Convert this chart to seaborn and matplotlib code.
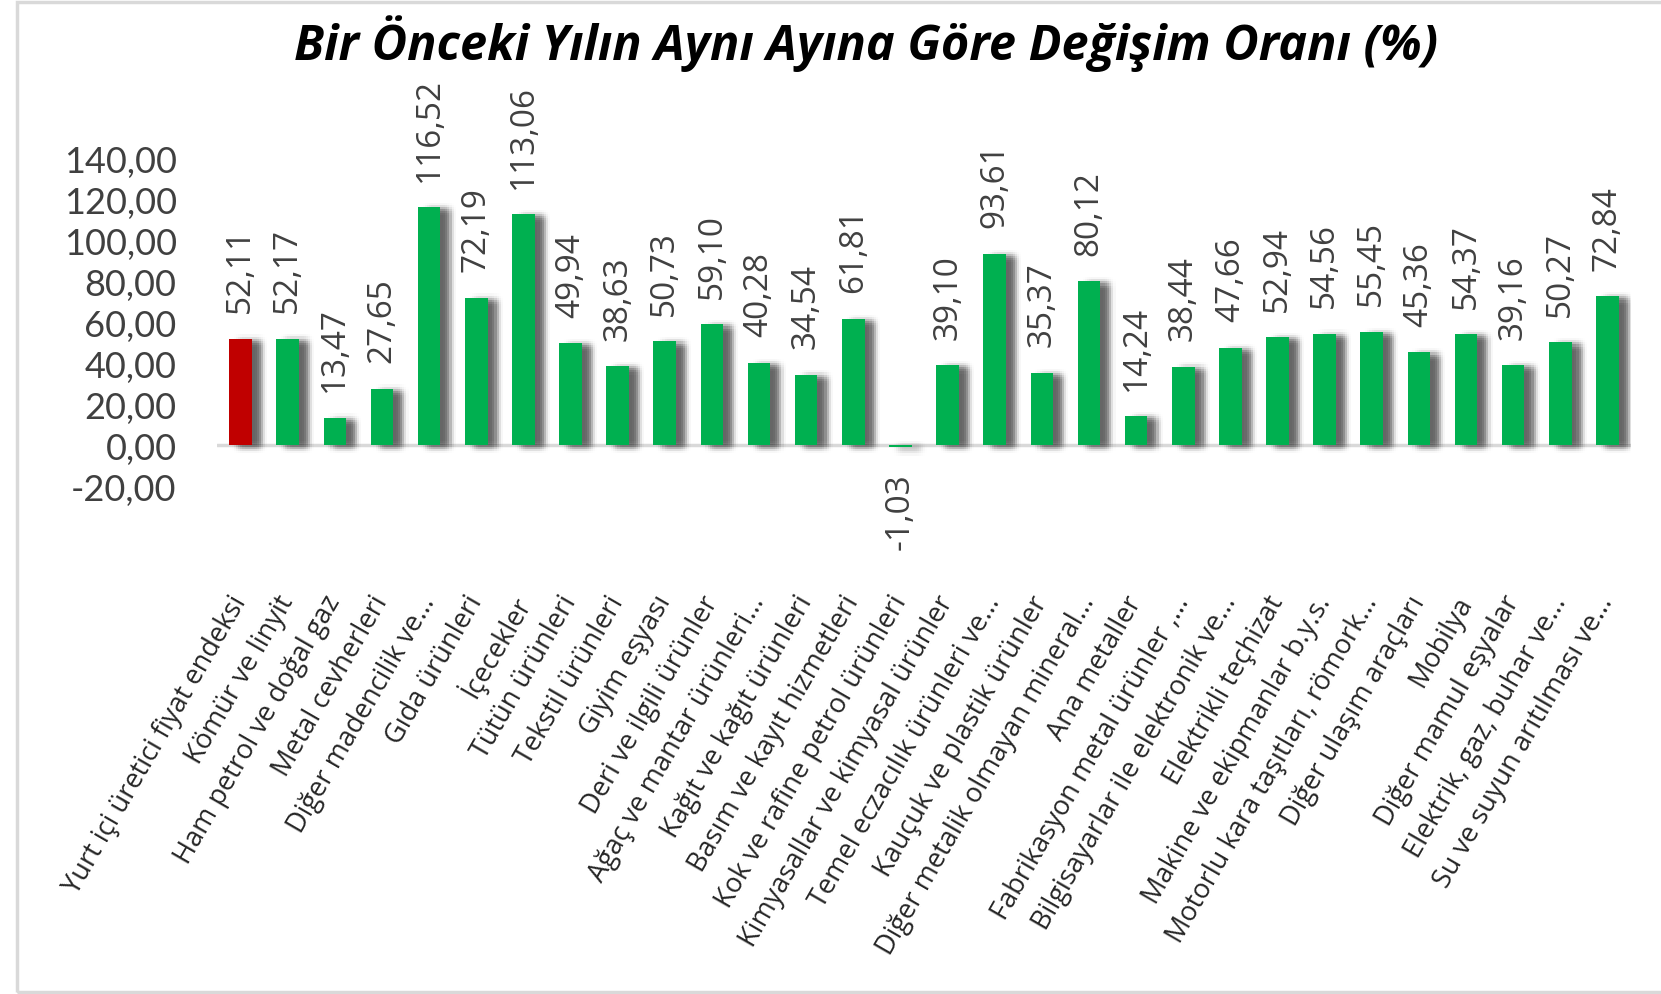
import matplotlib
matplotlib.use("Agg")
import matplotlib.pyplot as plt
import matplotlib.patheffects as pe
from matplotlib.patches import Rectangle
import numpy as np
import seaborn as sns
import pandas as pd

categories = [
    "Yurt içi üretici fiyat endeksi",
    "Kömür ve linyit",
    "Ham petrol ve doğal gaz",
    "Metal cevherleri",
    "Diğer madencilik ve...",
    "Gıda ürünleri",
    "İçecekler",
    "Tütün ürünleri",
    "Tekstil ürünleri",
    "Giyim eşyası",
    "Deri ve ilgili ürünler",
    "Ağaç ve mantar ürünleri...",
    "Kağıt ve kağıt ürünleri",
    "Basım ve kayıt hizmetleri",
    "Kok ve rafine petrol ürünleri",
    "Kimyasallar ve kimyasal ürünler",
    "Temel eczacılık ürünleri ve...",
    "Kauçuk ve plastik ürünler",
    "Diğer metalik olmayan mineral...",
    "Ana metaller",
    "Fabrikasyon metal ürünler ,...",
    "Bilgisayarlar ile elektronik ve...",
    "Elektrikli teçhizat",
    "Makine ve ekipmanlar b.y.s.",
    "Motorlu kara taşıtları, römork...",
    "Diğer ulaşım araçları",
    "Mobilya",
    "Diğer mamul eşyalar",
    "Elektrik, gaz, buhar ve...",
    "Su ve suyun arıtılması ve...",
]
values = [52.11, 52.17, 13.47, 27.65, 116.52, 72.19, 113.06, 49.94, 38.63, 50.73,
          59.10, 40.28, 34.54, 61.81, -1.03, 39.10, 93.61, 35.37, 80.12, 14.24,
          38.44, 47.66, 52.94, 54.56, 55.45, 45.36, 54.37, 39.16, 50.27, 72.84]
y_ticks = [-20, 0, 20, 40, 60, 80, 100, 120, 140]
title = "Bir Önceki Yılın Aynı Ayına Göre Değişim Oranı (%)"

RED = "#C00000"
GREEN = "#00B050"
TXT = "#404040"


def fmt(v):
    return f"{v:.2f}".replace(".", ",")


# soft (blurred) drop shadow built from many faint offset copies
steps = np.arange(-4.5, 4.51, 1.5)
weights = np.exp(-(steps[:, None] ** 2 + steps[None, :] ** 2) / (2 * 2.4 ** 2))
weights = weights / weights.sum()
shadow = []
for i, dx in enumerate(steps):
    for j, dy in enumerate(steps):
        a = 1 - (1 - 0.55) ** weights[i, j]
        shadow.append(pe.SimplePatchShadow(offset=(6.5 + dx, -1.5 + dy),
                                           shadow_rgbFace="black", alpha=a))
shadow.append(pe.Normal())

df = pd.DataFrame({"cat": categories, "val": values})
palette = {c: (RED if i == 0 else GREEN) for i, c in enumerate(categories)}

sns.set_style("white")
fig = plt.figure(figsize=(16.61, 9.95), dpi=100)
ax = fig.add_axes([217 / 1661, 1 - 487 / 995, (1631 - 217) / 1661, (487 - 160) / 995])

sns.barplot(data=df, x="cat", y="val", hue="cat", palette=palette, legend=False,
            width=0.48, ax=ax, saturation=1, dodge=False)

for p in ax.patches:
    p.set_edgecolor("none")
    p.set_zorder(2)
    p.set_path_effects(shadow)

ax.axhline(0, color="#D9D9D9", lw=2.5, zorder=1)

ax.set_ylim(-20, 140)
ax.set_xlim(-0.5, len(categories) - 0.5)
ax.set_yticks(y_ticks)
ax.set_yticklabels([fmt(t) for t in y_ticks], fontsize=26, color=TXT, family="Lato")
ax.tick_params(axis="y", length=0, pad=29)
ax.set_xticks(range(len(categories)))
ax.set_xticklabels(categories, rotation=60, ha="right", va="center",
                   rotation_mode="anchor", fontsize=19.5, color="#262626", family="Open Sans")
ax.tick_params(axis="x", length=0, pad=80)
for s in ax.spines.values():
    s.set_visible(False)
ax.set_xlabel("")
ax.set_ylabel("")

for i, v in enumerate(values):
    if v >= 0:
        ax.annotate(fmt(v), xy=(i, v), xytext=(0, 19), textcoords="offset points",
                    rotation=90, ha="center", va="bottom", fontsize=24,
                    color=TXT, family="Open Sans", annotation_clip=False, zorder=3)
    else:
        ax.annotate(fmt(v), xy=(i, v), xytext=(0, -18), textcoords="offset points",
                    rotation=90, ha="center", va="top", fontsize=24,
                    color=TXT, family="Open Sans", annotation_clip=False, zorder=3)

fig.text(866 / 1661, 1 - 44 / 995, title, ha="center", va="center",
         fontsize=35, fontweight="bold", fontstyle="italic", family="Open Sans", color="black")

fig.patches.append(Rectangle((17 / 1661, 2 / 995), 1.2, 1 - 5 / 995, transform=fig.transFigure,
                             fill=False, edgecolor="#D9D9D9", lw=2.5))

fig.savefig("out.png", dpi=100, facecolor="white")
